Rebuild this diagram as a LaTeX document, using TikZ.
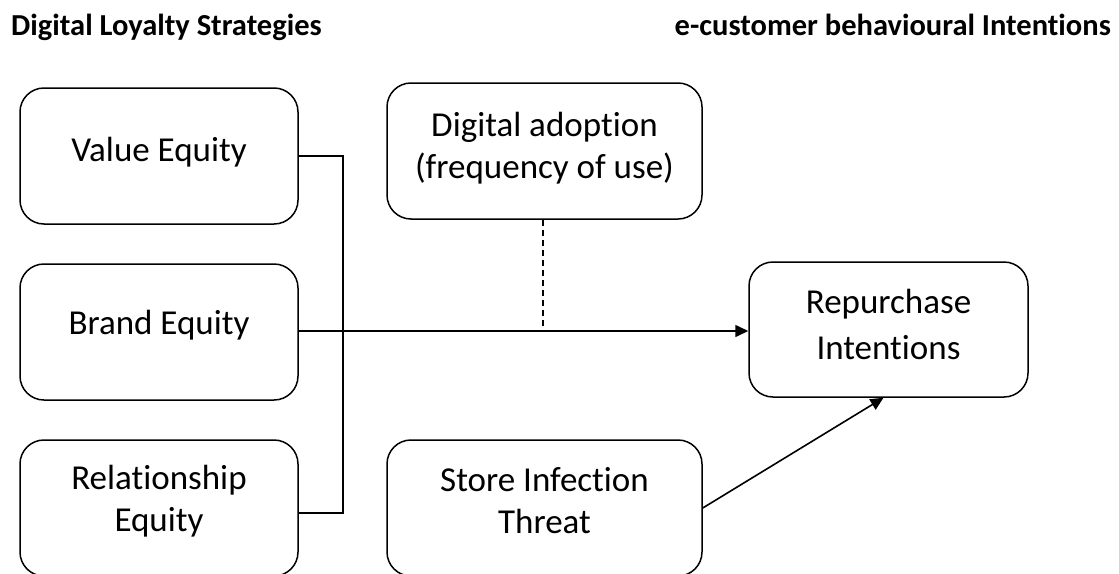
\documentclass[tikz,border=0pt]{standalone}
\usepackage{fontspec}
\setmainfont{Carlito}[Ligatures=NoCommon]
\usetikzlibrary{arrows.meta}
\begin{document}
\begin{tikzpicture}[x=1pt,y=-1pt,
  box/.style={draw, line width=1.5pt, rounded corners=24pt, inner sep=0pt,
    minimum width=#1, minimum height=136pt},
  box/.default=278pt,
  lbl/.style={align=center, inner sep=0pt, font=\fontsize{35}{42}\selectfont},
  ttl/.style={inner sep=0pt, font=\fontsize{30.5}{36}\selectfont\bfseries},
  conn/.style={line width=1.6pt},
  arrow/.style={line width=1.6pt, -{Triangle[length=13pt,width=12pt]}},
  dashline/.style={line width=1.4pt, dash pattern=on 6pt off 4pt}]
\useasboundingbox (0,0) rectangle (1119,573);
\clip (0,0) rectangle (1119,573);
\fill[white] (0,0) rectangle (1119,573);

% titles
\node[ttl, anchor=base west] (t1) at (11,35) {Digital Loyalty Strategies};
\node[ttl, anchor=base east] (t2) at (1111,35) {e-customer behavioural Intentions};

% boxes
\node[box] (value) at (159,156) {};
\node[box] (brand) at (159,332) {};
\node[box] (rel) at (159,508) {};
\node[box=315pt] (dig) at (544.5,151) {};
\node[box=315pt] (store) at (544.5,508) {};
\node[box=279pt, minimum height=135pt] (rep) at (888.5,329.5) {};

% labels
\node[lbl, anchor=base] (lvalue) at (159,161) {Value Equity};
\node[lbl, anchor=base] (lbrand) at (159,334) {Brand Equity};
\node[lbl] (lrel) at (159,501) {Relationship\\Equity};
\node[lbl] (ldig) at (544.5,148) {Digital adoption\\(frequency of use)};
\node[lbl] (lstore) at (544.5,501) {Store Infection\\Threat};
\node[lbl, font=\fontsize{35}{46}\selectfont] (lrep) at (888.5,324) {Repurchase\\Intentions};

% connectors
\coordinate (bus) at (343,331);
\draw[conn] (value.east) -| (bus) |- ([yshift=-5pt]rel.east);
\draw[conn, line width=2.4pt] (brand.east |- bus) -- (bus);
\draw[arrow] (bus) -- (bus -| rep.west);
\draw[dashline] ([xshift=-1.5pt]dig.south) -- ([xshift=-1.5pt]dig.south |- bus);
\draw[arrow] (store.east) -- ([xshift=-5pt]rep.south);
\end{tikzpicture}
\end{document}
